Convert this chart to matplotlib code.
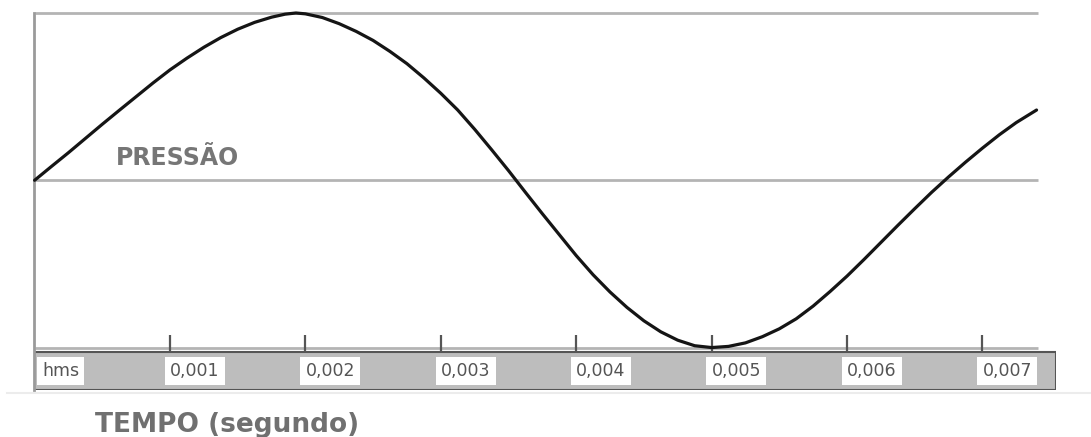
"""Pressure vs time sine sketch with a gray time ruler."""

import matplotlib

matplotlib.use("Agg")
import matplotlib.pyplot as plt  # noqa: E402
from matplotlib.lines import Line2D  # noqa: E402

# curve points (time in ms, relative pressure)
tempo_ms = [
    0.0, 0.125, 0.25, 0.375, 0.5, 0.625, 0.75, 0.875, 1.0, 1.125, 1.25, 1.375,
    1.5, 1.625, 1.75, 1.85, 1.93, 2.0, 2.125, 2.25, 2.375, 2.5, 2.625, 2.75,
    2.875, 3.0, 3.125, 3.25, 3.375, 3.5, 3.625, 3.75, 3.875, 4.0, 4.125,
    4.25, 4.375, 4.5, 4.625, 4.75, 4.875, 5.0, 5.125, 5.25, 5.375, 5.5, 5.625,
    5.75, 5.875, 6.0, 6.125, 6.25, 6.375, 6.5, 6.625, 6.75, 6.875, 7.0, 7.125,
    7.25, 7.4,
]
pressao = [
    0.0, 0.083, 0.165, 0.25, 0.335, 0.418, 0.5, 0.582, 0.66, 0.73, 0.795, 0.853,
    0.903, 0.944, 0.975, 0.993, 1.0, 0.995, 0.973, 0.936, 0.89, 0.836, 0.77, 0.697,
    0.612, 0.52, 0.42, 0.305, 0.183, 0.058, -0.072, -0.2, -0.325, -0.45, -0.565,
    -0.668, -0.76, -0.84, -0.906, -0.956, -0.989, -1.0, -0.993, -0.972, -0.935, -0.888, -0.828,
    -0.752, -0.665, -0.573, -0.474, -0.372, -0.27, -0.17, -0.072, 0.02, 0.108, 0.192, 0.272,
    0.345, 0.42,
]

ticks_ms = [1, 2, 3, 4, 5, 6, 7]
tick_labels = ["0,001", "0,002", "0,003", "0,004", "0,005", "0,006", "0,007"]
ref_levels = [1.0, 0.0, -1.0]
ref_end_ms = 7.41

tempo = [t * 1e-3 for t in tempo_ms]
ticks = [t * 1e-3 for t in ticks_ms]

fig = plt.figure(figsize=(10.91, 4.37), dpi=100)
ax = fig.add_axes([34 / 1091, 47 / 437, 1022 / 1091, 377 / 437])
ax.set_xlim(-0.0044e-3, 7.5436e-3)
ax.set_ylim(-1.2537, 1.0)
for side in ["top", "right", "bottom"]:
    ax.spines[side].set_visible(False)
ax.spines["left"].set_color("#9a9a9a")
ax.spines["left"].set_linewidth(2)
ax.set_xticks([])
ax.set_yticks([])

# reference lines (max, zero, min)
ax.hlines(ref_levels, 0, ref_end_ms * 1e-3, colors="#b4b4b4", linewidth=2,
          clip_on=False, zorder=1)

# ruler band
ax.axhspan(-1.2537, -1.027, xmin=0, xmax=1, facecolor="#bdbdbd",
           edgecolor="#555555", linewidth=1.5, zorder=2)
ax.vlines(ticks, -1.027, -0.925, colors="#555555", linewidth=1.6, zorder=3)

label_style = dict(ha="left", va="center", fontsize=12.5, color="#555555",
                   bbox=dict(boxstyle="square,pad=0.3", facecolor="white", edgecolor="none"),
                   zorder=4)
ax.text(0.055e-3, -1.14, "hms", **label_style)
for t, lab in zip(ticks, tick_labels):
    ax.text(t, -1.14, lab, **label_style)

ax.plot(tempo, pressao, color="#151515", linewidth=2.3, clip_on=False, zorder=5,
        solid_capstyle="round", solid_joinstyle="round")

ax.text(0.6e-3, 0.06, "PRESSÃO", fontsize=17, fontweight="bold", color="#767676",
        ha="left", va="bottom")

fig.add_artist(Line2D([7 / 1091, 1.0], [1 - 393 / 437, 1 - 393 / 437],
                      color="#ececec", linewidth=1.5))
fig.text(95 / 1091, 1 - 425 / 437, "TEMPO (segundo)", fontsize=19, fontweight="bold",
         color="#707070", ha="left", va="center")

fig.savefig("out.png", dpi=100)
